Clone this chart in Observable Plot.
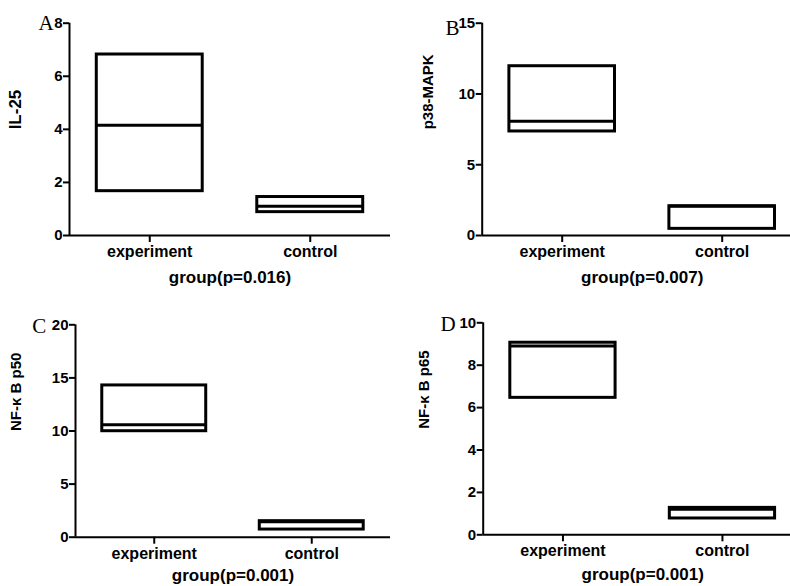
<!DOCTYPE html>
<html>
<head>
<meta charset="utf-8">
<script src="https://cdn.jsdelivr.net/npm/d3@7"></script>
<script src="https://cdn.jsdelivr.net/npm/@observablehq/plot@0.6"></script>
<style>
  html, body { margin: 0; padding: 0; background: #fff; }
  #wrap { position: relative; width: 790px; height: 586px; overflow: hidden; background: #fff; }
  #wrap > div, #wrap > svg { position: absolute; }
</style>
</head>
<body>
<div id="wrap"></div>
<script>
// ---- data ----
const groups = ["experiment", "control"];
const panelLetters = ["A", "B", "C", "D"];
const yLabels = ["IL-25", "p38-MAPK", "NF-\u03BA B p50", "NF-\u03BA B p65"];
const xLabels = ["group(p=0.016)", "group(p=0.007)", "group(p=0.001)", "group(p=0.001)"];
const yMax = [8, 15, 20, 10];
const yTickStep = [2, 5, 5, 2];
// per panel: [experiment, control]
const lowValues    = [[1.67, 0.88], [7.35, 0.47], [9.98, 0.72], [6.46, 0.77]];
const medianValues = [[4.15, 1.10], [8.08, 2.07], [10.58, 1.45], [8.90, 1.20]];
const highValues   = [[6.82, 1.45], [11.96, 2.07], [14.29, 1.51], [9.06, 1.27]];

// ---- layout (positions & styles) ----
const layout = [
  {left: 0,   top: 0,   width: 400, height: 290, ml: 69,   mt: 22.7, mb: 55,   mr: 10,  yLabSize: 17, yLabDx: -53.5, letterDx: -31,   letterDy: 0, xLabDy: 42},
  {left: 400, top: 0,   width: 410, height: 290, ml: 81.7, mt: 22.7, mb: 55,   mr: 8.3, yLabSize: 15, yLabDx: -54,   letterDx: -36.7, letterDy: 5, xLabDy: 42},
  {left: 0,   top: 290, width: 400, height: 296, ml: 75,   mt: 34.3, mb: 49.3, mr: 10,  yLabSize: 15, yLabDx: -59,   letterDx: -43.3, letterDy: 1, xLabDy: 38},
  {left: 400, top: 290, width: 410, height: 296, ml: 82.7, mt: 32.3, mb: 51.7, mr: 8.3, yLabSize: 15, yLabDx: -58.7, letterDx: -42.7, letterDy: 1, xLabDy: 40}
];
const halfWidth = 0.33;
const lw = 3;

const wrap = document.getElementById("wrap");

panelLetters.forEach((letter, p) => {
  const L = layout[p];
  const rows = groups.map((g, i) => ({
    group: g, i,
    low: lowValues[p][i], median: medianValues[p][i], high: highValues[p][i]
  }));
  const ticks = d3.range(0, yMax[p] + yTickStep[p] / 2, yTickStep[p]);
  const chart = Plot.plot({
    width: L.width,
    height: L.height,
    marginLeft: L.ml,
    marginTop: L.mt,
    marginBottom: L.mb,
    marginRight: L.mr,
    style: {
      fontFamily: "'Liberation Sans', Arial, sans-serif",
      fontWeight: "bold",
      fontSize: "14px",
      color: "#000",
      background: "transparent",
      overflow: "visible"
    },
    x: {domain: [0, groups.length], axis: null},
    y: {domain: [0, yMax[p]], axis: null},
    marks: [
      Plot.axisY({ticks, tickSize: 6, tickPadding: 1, strokeWidth: 2, fontSize: 15, label: null}),
      Plot.axisX({
        ticks: groups.map((g, i) => i + 0.5),
        tickFormat: v => groups[Math.floor(v)],
        tickSize: 7, tickPadding: 3, strokeWidth: 2, fontSize: 16, label: null
      }),
      Plot.ruleX([0], {strokeWidth: 2}),
      Plot.ruleY([0], {strokeWidth: 2}),
      Plot.rect(rows, {
        x1: d => d.i + 0.5 - halfWidth,
        x2: d => d.i + 0.5 + halfWidth,
        y1: "low", y2: "high",
        fill: "white", stroke: "black", strokeWidth: lw
      }),
      Plot.ruleY(rows, {
        x1: d => d.i + 0.5 - halfWidth,
        x2: d => d.i + 0.5 + halfWidth,
        y: "median", stroke: "black", strokeWidth: lw
      }),
      Plot.text([xLabels[p]], {frameAnchor: "bottom", dy: L.xLabDy, lineAnchor: "middle", fontSize: 17}),
      Plot.text([yLabels[p]], {frameAnchor: "left", dx: L.yLabDx, rotate: -90, lineAnchor: "middle", fontSize: L.yLabSize}),
      Plot.text([letter], {
        frameAnchor: "top-left", dx: L.letterDx, dy: L.letterDy, textAnchor: "start", lineAnchor: "middle",
        fontFamily: "'Liberation Serif', 'Times New Roman', serif", fontWeight: "normal", fontSize: 21
      })
    ]
  });
  chart.style.left = L.left + "px";
  chart.style.top = L.top + "px";
  wrap.appendChild(chart);
});
</script>
</body>
</html>
